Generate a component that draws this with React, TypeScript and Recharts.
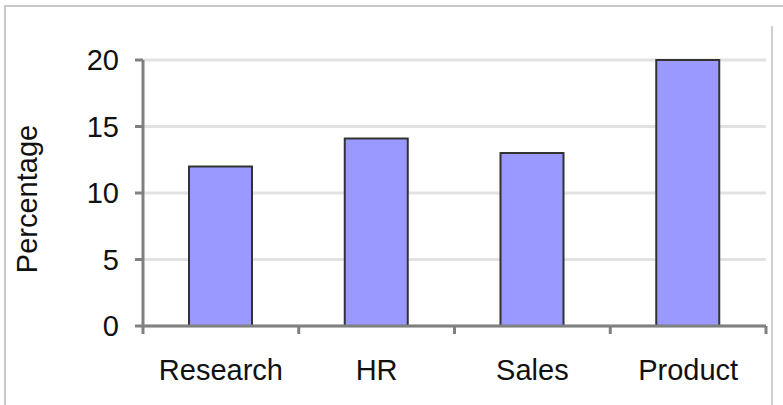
import React from 'react'
import { BarChart, Bar, XAxis, YAxis, CartesianGrid } from 'recharts'

const departments = ['Research', 'HR', 'Sales', 'Product']
const percentages = [12, 14.1, 13, 20]
const yTicks = [0, 5, 10, 15, 20]

const chartData = departments.map((name, i) => ({ name, value: percentages[i] }))

const FONT = '"Liberation Sans", Arial, sans-serif'
const AXIS = '#808080'

// category label in the middle, tick marks on the band edges
function CategoryTick(props: any) {
  const { x, y, payload, index, visibleTicksCount } = props
  const half = payload.offset || 0
  const isLast = index === visibleTicksCount - 1
  return (
    <g>
      <line x1={x - half} y1={y} x2={x - half} y2={y + 8} stroke={AXIS} strokeWidth={3} />
      {isLast && (
        <line x1={x + half} y1={y} x2={x + half} y2={y + 8} stroke={AXIS} strokeWidth={3} />
      )}
      <text x={x} y={y + 54} textAnchor="middle" fontSize={29} fill="#111" fontFamily={FONT}>
        {payload.value}
      </text>
    </g>
  )
}

function YTitle(props: any) {
  const { viewBox } = props
  const cx = viewBox.x + 27
  const cy = viewBox.y + viewBox.height / 2 + 6
  return (
    <text
      x={cx}
      y={cy}
      transform={`rotate(-90, ${cx}, ${cy})`}
      textAnchor="middle"
      dominantBaseline="central"
      fontSize={29}
      fill="#111"
      fontFamily={FONT}
    >
      Percentage
    </text>
  )
}

export default function App() {
  return (
    <div style={{ position: 'absolute', left: 0, top: 0, width: 783, height: 405, background: '#fff' }}>
      {/* frame around the picture */}
      <div style={{ position: 'absolute', left: 4, top: 5, right: 0, bottom: 0, borderTop: '2px solid #c8c8c8', borderLeft: '2px solid #c8c8c8' }} />
      <div style={{ position: 'absolute', left: 771, top: 26, width: 2, bottom: 0, background: '#cfcfcf' }} />
      <div style={{ position: 'absolute', left: 0, top: 0 }}>
        <BarChart
          width={783}
          height={405}
          data={chartData}
          margin={{ top: 60, right: 17, left: 0, bottom: 0 }}
        >
          <CartesianGrid vertical={false} stroke="#e2e2e2" strokeWidth={3} />
          <XAxis
            dataKey="name"
            height={79}
            tickSize={0}
            tickMargin={0}
            axisLine={{ stroke: AXIS, strokeWidth: 3 }}
            tick={<CategoryTick />}
            interval={0}
          />
          <YAxis
            width={143}
            domain={[0, 20]}
            ticks={yTicks}
            tickSize={8}
            tickMargin={16}
            axisLine={{ stroke: AXIS, strokeWidth: 3 }}
            tickLine={{ stroke: AXIS, strokeWidth: 3 }}
            tick={{ fontSize: 29, fill: '#111', fontFamily: FONT }}
            label={<YTitle />}
          />
          <Bar
            dataKey="value"
            fill="#9999ff"
            stroke="#333"
            strokeWidth={2}
            barSize={63}
            isAnimationActive={false}
          />
        </BarChart>
      </div>
    </div>
  )
}
